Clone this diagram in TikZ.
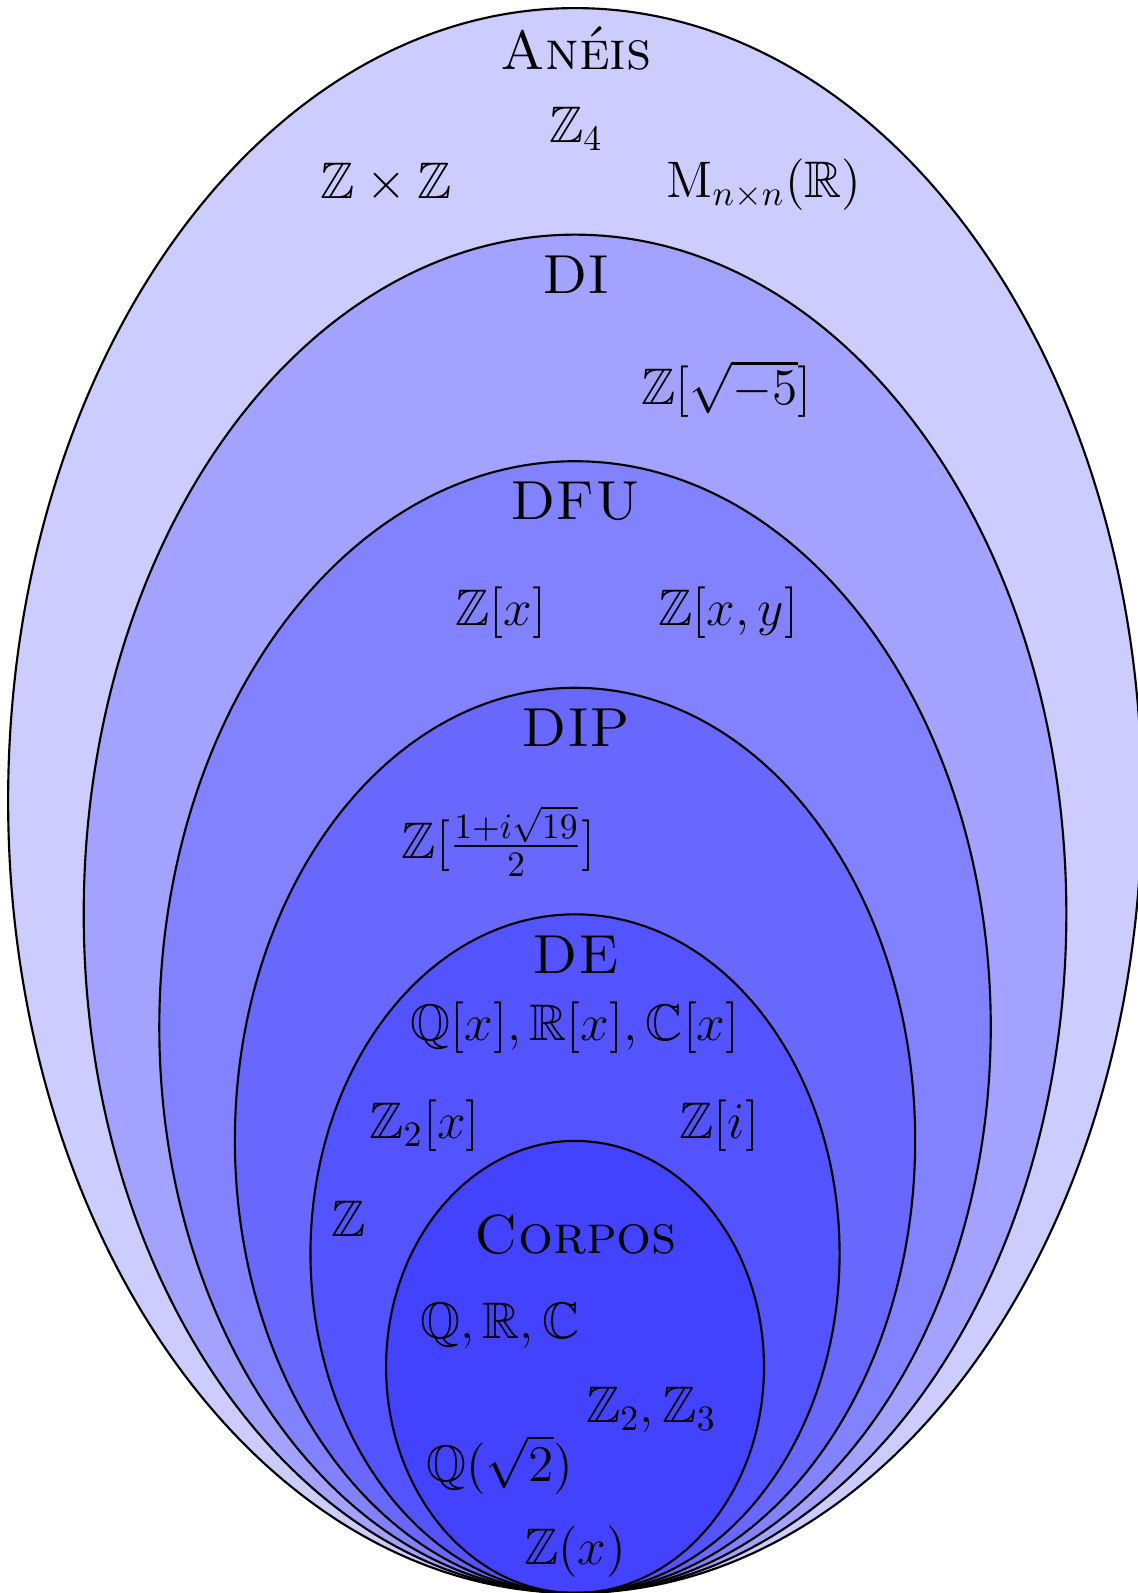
\documentclass[tikz,border=0pt]{standalone}
\usepackage{amsmath,amssymb}
\usepackage{tikz}
\usetikzlibrary{positioning}

\begin{document}
\begin{tikzpicture}[
  conj/.style={draw, semithick, fill=blue, fill opacity=0.2, draw opacity=1},
  nome/.style={font=\fontsize{15.4}{18}\selectfont\scshape},
  elem/.style={font=\Large}
]
\useasboundingbox (0,0) rectangle (11.2,15.68);

% ---- Nested sets (all touching at the bottom) ----
\def\cx{5.66}
\foreach \k in {0,...,5}{
  \pgfmathsetmacro{\rx}{5.58-0.744*\k}
  \pgfmathsetmacro{\ry}{7.80-1.115*\k}
  \draw[conj] (\cx,\ry) ellipse ({\rx} and {\ry});
}

% ---- Aneis ----
\node[nome] (aneis) at (5.67,15.20) {Anéis};
\node[elem] (z4)    at (5.67,14.41) {$\mathbb{Z}_4$};
\node[elem] (zxz)   at (3.80,13.88) {$\mathbb{Z}\times\mathbb{Z}$};
\node[elem] (mat)   at (7.52,13.86) {$\mathrm{M}_{n\times n}(\mathbb{R})$};

% ---- DI ----
\node[nome] (di)    at (5.67,12.98) {DI};
\node[elem] (zr5)   at (7.15,11.85) {$\mathbb{Z}[\sqrt{-5}]$};

% ---- DFU ----
\node[nome] (dfu)   at (5.66,10.75) {DFU};
\node[elem] (zx)    at (4.93, 9.65) {$\mathbb{Z}[x]$};
\node[elem] (zxy)   at (7.17, 9.65) {$\mathbb{Z}[x,y]$};

% ---- DIP ----
\node[nome] (dip)   at (5.67, 8.52) {DIP};
\node[elem] (z19)   at (4.91, 7.40) {$\mathbb{Z}[\frac{1+i\sqrt{19}}{2}]$};

% ---- DE ----
\node[nome] (de)    at (5.67, 6.28) {DE};
\node[elem] (pol)   at (5.66, 5.56) {$\mathbb{Q}[x],\mathbb{R}[x],\mathbb{C}[x]$};
\node[elem] (z2x)   at (4.18, 4.60) {$\mathbb{Z}_2[x]$};
\node[elem] (zi)    at (7.08, 4.60) {$\mathbb{Z}[i]$};
\node[elem] (z)     at (3.43, 3.68) {$\mathbb{Z}$};

% ---- Corpos ----
\node[nome] (corpos) at (5.67, 3.53) {Corpos};
\node[elem] (qrc)   at (4.92, 2.63) {$\mathbb{Q},\mathbb{R},\mathbb{C}$};
\node[elem] (z23)   at (6.41, 1.80) {$\mathbb{Z}_2,\mathbb{Z}_3$};
\node[elem] (qr2)   at (4.92, 1.26) {$\mathbb{Q}(\sqrt{2})$};
\node[elem] (zfx)   at (5.66, 0.41) {$\mathbb{Z}(x)$};

\end{tikzpicture}
\end{document}
